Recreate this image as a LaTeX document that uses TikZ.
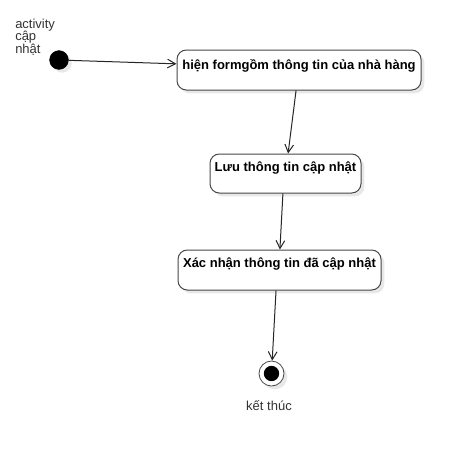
\documentclass[tikz,border=0pt]{standalone}
\usepackage{fontspec}
\setmainfont{Liberation Sans}
\usetikzlibrary{arrows.meta,calc,shadows}
\begin{document}
\begin{tikzpicture}[x=0.75pt,y=-0.75pt,
  shad/.style={drop shadow={shadow xshift=2.5pt,shadow yshift=-2.5pt,fill=black!9,opacity=1}},
  actbox/.style={draw=black!72,line width=0.75pt,rounded corners=7pt,fill=white,inner sep=0pt,shad},
  acttext/.style={font=\fontsize{9.75}{11}\selectfont\bfseries,inner sep=0pt,text=black},
  lbl/.style={font=\fontsize{9.75}{9.4}\selectfont,text=black!80,inner sep=0pt},
  flow/.style={draw=black!85,line width=0.75pt,-{Straight Barb[length=6pt,width=6.5pt,line width=0.75pt]}},
  startnode/.style={circle,fill=black,draw=black,line width=0.5pt,minimum size=14pt,inner sep=0pt,shad},
  endnode/.style={circle,draw=black!72,fill=white,line width=0.6pt,minimum size=18.75pt,inner sep=0pt,shad},
  endcore/.style={circle,fill=black,minimum size=11.5pt,inner sep=0pt}
]
\useasboundingbox (0,0) rectangle (460,458);
\fill[white] (0,0) rectangle (460,458);

\node[lbl,align=left,anchor=north west] (title) at (15,18.5) {activity\\cập\\nhật};
\node[startnode] (s) at (59,60) {};

\node[actbox,minimum width=183pt,minimum height=30pt] (b1) at (299,70) {};
\node[acttext] (t1) at ($(b1.north)+(0,16)$) {hiện formgồm thông tin của nhà hàng};

\node[actbox,minimum width=113.25pt,minimum height=29.25pt] (b2) at (285.5,173.5) {};
\node[acttext] (t2) at ($(b2.north)+(0,14.5)$) {Lưu thông tin cập nhật};

\node[actbox,minimum width=152.25pt,minimum height=30pt] (b3) at (279.5,270) {};
\node[acttext] (t3) at ($(b3.north)+(0,14.5)$) {Xác nhận thông tin đã cập nhật};

\node[endnode] (e) at (271.5,373.5) {};
\node[endcore] (ec) at (e.center) {};
\node[lbl] (elbl) at (269,406) {kết thúc};

\draw[flow] (s) -- ($(b1.north west)!0.35!(b1.south west)$);
\draw[flow] ($(b1.south west)!0.488!(b1.south east)$) -- ($(b2.north west)!0.517!(b2.north east)$);
\draw[flow] ($(b2.south west)!0.483!(b2.south east)$) -- ($(b3.north west)!0.502!(b3.north east)$);
\draw[flow] ($(b3.south west)!0.483!(b3.south east)$) -- (e);
\end{tikzpicture}
\end{document}
